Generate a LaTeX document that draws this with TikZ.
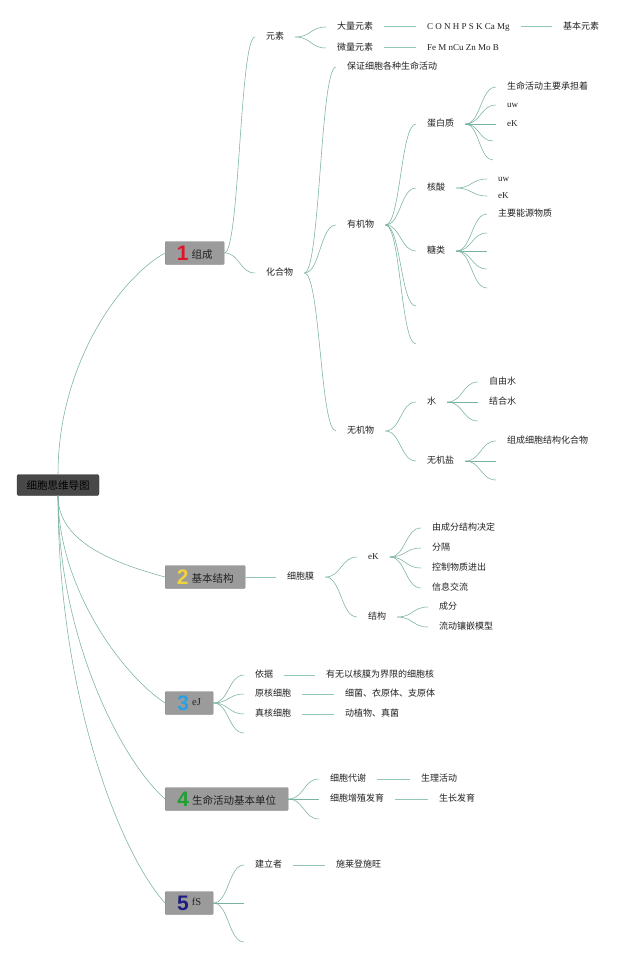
\documentclass[tikz,border=0pt]{standalone}
\usepackage{fontspec}
\newfontfamily\cjk{Noto Sans CJK SC}
\newfontfamily\lat{Liberation Serif}
\newfontfamily\dig{Liberation Sans}
\usetikzlibrary{calc}
\definecolor{linkc}{RGB}{120,178,162}
\definecolor{hlinkc}{RGB}{145,198,185}
\definecolor{boxc}{RGB}{155,155,155}
\definecolor{boxd}{RGB}{135,135,135}
\definecolor{rootc}{RGB}{72,72,72}
\definecolor{rootd}{RGB}{55,55,55}
\definecolor{txtc}{RGB}{34,34,34}
\definecolor{nred}{RGB}{222,20,40}
\definecolor{nyel}{RGB}{240,210,60}
\definecolor{nblu}{RGB}{40,160,225}
\definecolor{ngrn}{RGB}{30,160,50}
\definecolor{nnav}{RGB}{30,30,130}
\newcommand\bignum[2]{\raisebox{-2pt}{\color{#1}\dig\bfseries\fontsize{21}{21}\selectfont #2}}
\begin{document}
\begin{tikzpicture}[x=1pt,y=-1pt,
 link/.style={draw=linkc,line width=0.55pt},
 hline/.style={draw=hlinkc,line width=1pt},
 fan/.style={to path={.. controls ($(\tikztostart)!0.5!(\tikztotarget |- \tikztostart)$) and ($(\tikztotarget)!0.5!(\tikztostart |- \tikztotarget)$) .. (\tikztotarget)}},
 txt/.style={anchor=west,inner xsep=11pt,inner ysep=1pt,font=\cjk\fontsize{9}{10}\selectfont,text=txtc,text height=7pt,text depth=1.5pt},
 txtl/.style={txt,font=\lat\fontsize{9}{10}\selectfont},
 mbox/.style={anchor=west,fill=boxc,draw=boxd,line width=0.4pt,rounded corners=1pt,minimum height=23pt,inner xsep=0pt,inner ysep=0pt,font=\cjk\fontsize{10.5}{12}\selectfont,text=txtc},
 rootbox/.style={fill=rootc,draw=rootd,line width=0.4pt,rounded corners=2pt,minimum width=82pt,minimum height=21pt,inner sep=0pt,font=\cjk\fontsize{10.5}{12}\selectfont,text=black}
]
\fill[white] (0,0) rectangle (640,960);
\useasboundingbox (0,0) rectangle (640,960);

% root and main boxes
\node[rootbox] (root) at (58,485) {细胞思维导图};
\node[mbox,minimum width=59pt] (b1) at (165,253) {\bignum{nred}{1}\hspace{3pt}组成};
\node[mbox,minimum width=80pt] (b2) at (165,577) {\bignum{nyel}{2}\hspace{3pt}基本结构};
\node[mbox,minimum width=48pt] (b3) at (165,703) {\bignum{nblu}{3}\hspace{3pt}\raisebox{3pt}{\lat eJ}};
\node[mbox,minimum width=123pt] (b4) at (165,799) {\bignum{ngrn}{4}\hspace{3pt}生命活动基本单位};
\node[mbox,minimum width=48pt] (b5) at (165,903) {\bignum{nnav}{5}\hspace{3pt}\raisebox{3pt}{\lat fS}};

\draw[link] (root.north) .. controls +(0,-110) and +(-45,25) .. (b1.west);
\draw[link] (root.south) .. controls +(0,45) and +(-55,-15) .. (b2.west);
\draw[link] (root.south) .. controls +(0,90) and +(-45,-30) .. (b3.west);
\draw[link] (root.south) .. controls +(0,140) and +(-45,-40) .. (b4.west);
\draw[link] (root.south) .. controls +(0,200) and +(-45,-50) .. (b5.west);

% ---- branch 1
\node[txt] (ys) at (255,37) {元素};
\node[txt] (dl) at (326,27) {大量元素};
\node[txt] (wl) at (326,48) {微量元素};
\node[txtl] (con) at (416,27) {C O N H P S K Ca Mg};
\node[txt] (jb) at (552,27) {基本元素};
\node[txtl] (fe) at (416,48) {Fe M nCu Zn Mo B};
\node[txt] (hhw) at (255,273) {化合物};
\node[txt] (bz) at (336,67) {保证细胞各种生命活动};
\node[txt] (yjw) at (336,225) {有机物};
\node[txt] (wjw) at (336,431) {无机物};
\node[txt] (dbz) at (416,124) {蛋白质};
\node[txt] (hs) at (416,188) {核酸};
\node[txt] (tlei) at (416,251) {糖类};
\coordinate (y4) at (416,306);
\coordinate (y5) at (416,344);
\node[txt] (d1) at (496,87) {生命活动主要承担着};
\node[txtl] (d2) at (496,105) {uw};
\node[txtl] (d3) at (496,124) {eK};
\coordinate (d4) at (493,141);
\coordinate (d5) at (493,160);
\node[txtl] (h1) at (487,179) {uw};
\node[txtl] (h2) at (487,196) {eK};
\node[txt] (s1) at (487,214) {主要能源物质};
\coordinate (s2) at (487,233);
\coordinate (s3) at (487,251);
\coordinate (s4) at (487,269);
\coordinate (s5) at (487,288);
\node[txt] (shui) at (416,402) {水};
\node[txt] (wjy) at (416,461) {无机盐};
\node[txt] (w1) at (478,382) {自由水};
\node[txt] (w2) at (478,402) {结合水};
\coordinate (w3) at (478,421);
\node[txt] (i1) at (496,441) {组成细胞结构化合物};
\coordinate (i2) at (496,461);
\coordinate (i3) at (496,480);

\draw[link] (b1.east) to[fan] (ys.west);
\draw[link] (b1.east) to[fan] (hhw.west);
\draw[link] (ys.east) to[fan] (dl.west);
\draw[link] (ys.east) to[fan] (wl.west);
\draw[hline] (dl.east) -- (con.west);
\draw[hline] (con.east) -- (jb.west);
\draw[hline] (wl.east) -- (fe.west);
\draw[link] (hhw.east) to[fan] (bz.west);
\draw[link] (hhw.east) to[fan] (yjw.west);
\draw[link] (hhw.east) to[fan] (wjw.west);
\draw[link] (yjw.east) to[fan] (dbz.west);
\draw[link] (yjw.east) to[fan] (hs.west);
\draw[link] (yjw.east) to[fan] (tlei.west);
\draw[link] (yjw.east) to[fan] (y4);
\draw[link] (yjw.east) to[fan] (y5);
\draw[link] (dbz.east) to[fan] (d1.west);
\draw[link] (dbz.east) to[fan] (d2.west);
\draw[link] (dbz.east) to[fan] (d3.west);
\draw[link] (dbz.east) to[fan] (d4);
\draw[link] (dbz.east) to[fan] (d5);
\draw[link] (hs.east) to[fan] (h1.west);
\draw[link] (hs.east) to[fan] (h2.west);
\draw[link] (tlei.east) to[fan] (s1.west);
\draw[link] (tlei.east) to[fan] (s2);
\draw[link] (tlei.east) to[fan] (s3);
\draw[link] (tlei.east) to[fan] (s4);
\draw[link] (tlei.east) to[fan] (s5);
\draw[link] (wjw.east) to[fan] (shui.west);
\draw[link] (wjw.east) to[fan] (wjy.west);
\draw[link] (shui.east) to[fan] (w1.west);
\draw[link] (shui.east) to[fan] (w2.west);
\draw[link] (shui.east) to[fan] (w3);
\draw[link] (wjy.east) to[fan] (i1.west);
\draw[link] (wjy.east) to[fan] (i2);
\draw[link] (wjy.east) to[fan] (i3);

% ---- branch 2
\node[txt] (xbm) at (276,577) {细胞膜};
\node[txtl] (gn) at (357,557) {eK};
\node[txt] (jg) at (357,617) {结构};
\node[txt] (g1) at (421,528) {由成分结构决定};
\node[txt] (g2) at (421,548) {分隔};
\node[txt] (g3) at (421,568) {控制物质进出};
\node[txt] (g4) at (421,588) {信息交流};
\node[txt] (j1) at (428,607) {成分};
\node[txt] (j2) at (428,627) {流动镶嵌模型};
\draw[hline] (b2.east) -- (xbm.west);
\draw[link] (xbm.east) to[fan] (gn.west);
\draw[link] (xbm.east) to[fan] (jg.west);
\draw[link] (gn.east) to[fan] (g1.west);
\draw[link] (gn.east) to[fan] (g2.west);
\draw[link] (gn.east) to[fan] (g3.west);
\draw[link] (gn.east) to[fan] (g4.west);
\draw[link] (jg.east) to[fan] (j1.west);
\draw[link] (jg.east) to[fan] (j2.west);

% ---- branch 3
\node[txt] (yj) at (244,675) {依据};
\node[txt] (yh) at (244,694) {原核细胞};
\node[txt] (zh) at (244,714) {真核细胞};
\coordinate (f4) at (244,733);
\node[txt] (yj2) at (315,675) {有无以核膜为界限的细胞核};
\node[txt] (yh2) at (334,694) {细菌、衣原体、支原体};
\node[txt] (zh2) at (334,714) {动植物、真菌};
\draw[link] (b3.east) to[fan] (yj.west);
\draw[link] (b3.east) to[fan] (yh.west);
\draw[link] (b3.east) to[fan] (zh.west);
\draw[link] (b3.east) to[fan] (f4);
\draw[hline] (yj.east) -- (yj2.west);
\draw[hline] (yh.east) -- (yh2.west);
\draw[hline] (zh.east) -- (zh2.west);

% ---- branch 4
\node[txt] (dx) at (319,779) {细胞代谢};
\node[txt] (zz) at (319,799) {细胞增殖发育};
\coordinate (k3) at (319,819);
\node[txt] (dx2) at (410,779) {生理活动};
\node[txt] (zz2) at (428,799) {生长发育};
\draw[link] (b4.east) to[fan] (dx.west);
\draw[link] (b4.east) to[fan] (zz.west);
\draw[link] (b4.east) to[fan] (k3);
\draw[hline] (dx.east) -- (dx2.west);
\draw[hline] (zz.east) -- (zz2.west);

% ---- branch 5
\node[txt] (jl) at (244,865) {建立者};
\coordinate (m2) at (244,903);
\coordinate (m3) at (244,942);
\node[txt] (jl2) at (325,865) {施莱登施旺};
\draw[link] (b5.east) to[fan] (jl.west);
\draw[link] (b5.east) to[fan] (m2);
\draw[link] (b5.east) to[fan] (m3);
\draw[hline] (jl.east) -- (jl2.west);
\end{tikzpicture}
\end{document}
